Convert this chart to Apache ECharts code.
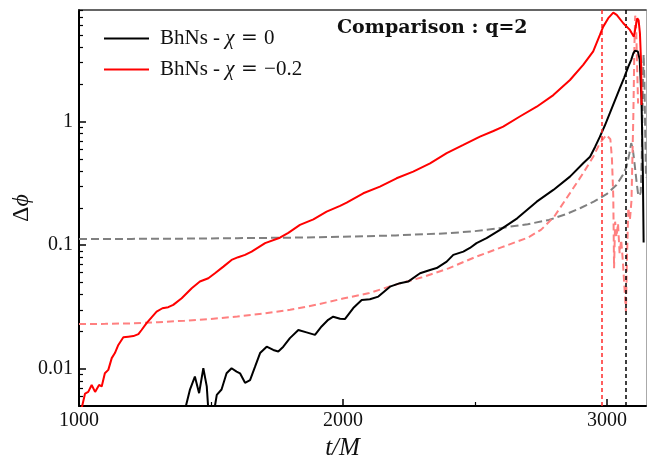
<!DOCTYPE html>
<html>
<head>
<meta charset="utf-8">
<script src="https://cdn.jsdelivr.net/npm/echarts@6/dist/echarts.min.js"></script>
<style>html,body{margin:0;padding:0;background:#fff}#c{width:647px;height:458px}</style>
</head>
<body>
<div id="c"></div>
<script>
// ---- data ----
const tRed = [1005,1012,1023,1035,1048,1061,1076,1086,1098,1111,1124,1136,1149,1168,1187,1206,1225,1237,1256,1275,1294,1316,1338,1357,1389,1427,1458,1490,1515,1547,1578,1603,1629,1654,1705,1761,1793,1837,1888,1938,1989,2014,2077,2140,2203,2266,2330,2393,2456,2519,2570,2607,2670,2734,2797,2860,2910,2948,2973,2986,3005,3024,3037,3062,3087,3102,3109,3115,3120,3125,3130,3131];
const redVals = [0.0045,0.005,0.0063,0.0065,0.0074,0.0065,0.0074,0.0072,0.0092,0.0098,0.0122,0.0134,0.0156,0.018,0.0182,0.0184,0.0191,0.0206,0.0234,0.0261,0.029,0.0309,0.0315,0.0329,0.0372,0.0449,0.0508,0.054,0.0593,0.0671,0.076,0.080,0.0835,0.0888,0.104,0.115,0.126,0.146,0.162,0.187,0.208,0.221,0.263,0.298,0.348,0.394,0.46,0.555,0.648,0.757,0.84,0.91,1.10,1.32,1.64,2.17,2.88,3.70,5.0,5.87,6.87,7.62,7.3,6.25,5.52,4.87,5.87,6.87,6.6,5.2,2.79,1.36];

const tBlack = [1398,1405,1420,1439,1455,1471,1484,1492,1500,1509,1515,1522,1540,1559,1578,1597,1610,1629,1648,1667,1686,1711,1736,1755,1774,1799,1831,1862,1894,1919,1944,1963,1989,2008,2039,2071,2102,2134,2178,2216,2247,2292,2330,2355,2393,2418,2456,2481,2506,2544,2595,2660,2734,2797,2860,2910,2936,2955,2973,2992,3011,3030,3049,3065,3081,3092,3100,3106,3112,3117,3124,3131,3136,3139];
const blackVals = [0.004,0.005,0.00675,0.00865,0.00635,0.0101,0.0072,0.004,0.003,0.004,0.005,0.00615,0.0068,0.0092,0.0101,0.0095,0.0092,0.0077,0.0081,0.0104,0.0134,0.0151,0.0142,0.0138,0.0151,0.0177,0.0206,0.0197,0.0188,0.022,0.0249,0.0264,0.0254,0.0253,0.031,0.036,0.0365,0.0384,0.0462,0.0493,0.0508,0.0593,0.063,0.0653,0.0736,0.0835,0.0888,0.095,0.104,0.114,0.133,0.165,0.225,0.28,0.359,0.46,0.52,0.624,0.752,0.93,1.17,1.48,1.87,2.26,2.79,3.16,3.57,3.75,3.85,3.7,3.2,1.5,0.4,0.105];

const tGrayDash = [1000,1200,1400,1600,1800,2000,2200,2400,2500,2600,2700,2780,2850,2900,2950,3000,3036,3060,3074,3085,3092,3098,3105,3112,3118,3124,3128,3132,3136,3139,3142,3145,3148];
const grayDashVals = [0.112,0.1125,0.113,0.114,0.115,0.117,0.12,0.125,0.13,0.138,0.148,0.16,0.18,0.2,0.225,0.26,0.307,0.37,0.43,0.55,0.67,0.6,0.45,0.33,0.26,0.25,0.27,0.5,2.0,3.5,2.2,0.8,0.35];

const tRedDash = [1000,1100,1200,1300,1400,1500,1600,1700,1800,1900,2000,2100,2200,2300,2400,2500,2600,2700,2750,2800,2860,2910,2948,2973,2998,3005,3013,3019,3024,3027,3031,3036,3042,3048,3054,3060,3068,3072,3076,3081,3087,3093,3100,3104,3107,3110,3114,3118];
const redDashVals = [0.023,0.0231,0.0233,0.0238,0.0245,0.0253,0.0265,0.028,0.030,0.033,0.037,0.041,0.048,0.055,0.065,0.080,0.096,0.115,0.133,0.17,0.264,0.383,0.52,0.668,0.78,0.8,0.72,0.5,0.25,0.065,0.155,0.117,0.15,0.086,0.11,0.076,0.04,0.029,0.08,0.2,0.16,0.23,1.1,4.0,7.2,6.5,3.0,1.4];

const vlineRedX = 2980;
const vlineBlackX = 3072;

const xMajorTicks = [1000, 2000, 3000];
const xMinorTicks = [1500, 2500];
const yMajorTicks = [0.01, 0.1, 1];
const yMinorTicks = [0.006,0.007,0.008,0.009,0.02,0.03,0.04,0.05,0.06,0.07,0.08,0.09,0.2,0.3,0.4,0.5,0.6,0.7,0.8,0.9,2,3,4,5,6,7,8];

const legendLabels = {chi0: '{a|BhNs - }{b|χ}{e| = }{a|0}', chim: '{a|BhNs - }{b|χ}{e| = }{a|−0.2}'};

// ---- chart ----
const zip = (xs, ys) => xs.map((x, i) => [x, ys[i]]);
const SERIF = 'Liberation Serif';
const X_MIN = 1000, X_MAX = 3148, Y_MIN = 0.005, Y_MAX = 8;

const chart = echarts.init(document.getElementById('c'), null, {renderer: 'canvas'});
const noLine = {show: false};
chart.setOption({
  animation: false,
  backgroundColor: '#fff',
  title: {
    text: 'Comparison : q=2', left: 337, top: 19, padding: 0,
    textStyle: {fontFamily: 'DejaVu Serif', fontWeight: 'bold', fontSize: 19, color: '#111'}
  },
  legend: {
    orient: 'vertical', left: 99, top: 23, itemWidth: 45, itemHeight: 2, itemGap: 10,
    icon: 'rect', data: ['chi0', 'chim'],
    formatter: n => legendLabels[n],
    textStyle: {
      padding: [0, 0, 0, 6],
      rich: {
        a: {fontFamily: SERIF, fontSize: 21, color: '#111', lineHeight: 22},
        b: {fontFamily: SERIF, fontSize: 21, fontStyle: 'italic', color: '#111', lineHeight: 22},
        e: {fontFamily: 'DejaVu Serif', fontSize: 20, color: '#111', lineHeight: 22}
      }
    }
  },
  grid: {left: 79, right: 1, top: 10, bottom: 52, containLabel: false, outerBoundsMode: 'none'},
  xAxis: [
    {type: 'value', min: X_MIN, max: X_MAX, position: 'bottom',
     name: 't/M', nameLocation: 'middle', nameGap: 21,
     nameTextStyle: {fontFamily: SERIF, fontStyle: 'italic', fontSize: 25, color: '#111', padding: [0, 40, 0, 0]},
     axisLine: {onZero: false, lineStyle: {color: '#000', width: 2}},
     axisTick: {inside: true, length: 7, lineStyle: {color: '#000', width: 1.5}, customValues: xMajorTicks},
     axisLabel: {customValues: xMajorTicks, fontFamily: SERIF, fontSize: 20, color: '#111', margin: 5,
                 formatter: v => String(v)},
     splitLine: noLine},
    {type: 'value', min: X_MIN, max: X_MAX, position: 'bottom',
     axisLine: {show: false, onZero: false},
     axisTick: {inside: true, length: 4, lineStyle: {color: '#000', width: 1.2}, customValues: xMinorTicks},
     axisLabel: {show: false}, splitLine: noLine},
    {type: 'value', min: X_MIN, max: X_MAX, position: 'top',
     axisLine: {onZero: false, lineStyle: {color: '#333', width: 1.5}},
     axisTick: {show: false}, axisLabel: {show: false}, splitLine: noLine}
  ],
  yAxis: [
    {type: 'log', logBase: 10, min: Y_MIN, max: Y_MAX, position: 'left',
     name: '{a|Δ}{b|ϕ}', nameLocation: 'middle', nameGap: 45, nameRotate: 90, nameMoveOverlap: false,
     nameTextStyle: {rich: {a: {fontFamily: SERIF, fontSize: 24, color: '#111'}, b: {fontFamily: SERIF, fontSize: 24, fontStyle: 'italic', color: '#111'}}},
     axisLine: {onZero: false, lineStyle: {color: '#000', width: 2}},
     axisTick: {inside: true, length: 7, lineStyle: {color: '#000', width: 1.5}, customValues: yMajorTicks},
     axisLabel: {customValues: yMajorTicks, fontFamily: SERIF, fontSize: 20, color: '#111', margin: 6,
                 formatter: v => String(+(+v).toPrecision(3))},
     splitLine: noLine},
    {type: 'log', logBase: 10, min: Y_MIN, max: Y_MAX, position: 'left',
     axisLine: {show: false, onZero: false},
     axisTick: {inside: true, length: 4, lineStyle: {color: '#000', width: 1.2}, customValues: yMinorTicks},
     axisLabel: {show: false}, splitLine: noLine},
    {type: 'log', logBase: 10, min: Y_MIN, max: Y_MAX, position: 'right',
     axisLine: {onZero: false, lineStyle: {color: '#aaa', width: 1}},
     axisTick: {show: false}, axisLabel: {show: false}, splitLine: noLine}
  ],
  series: [
    {name: 'grayDash', type: 'line', data: zip(tGrayDash, grayDashVals), showSymbol: false, symbol: 'none',
     lineStyle: {color: '#808080', width: 2, type: [8, 4]}, z: 2},
    {name: 'redDash', type: 'line', data: zip(tRedDash, redDashVals), showSymbol: false, symbol: 'none',
     lineStyle: {color: '#ff8080', width: 2, type: [7, 4]}, z: 3},
    {name: 'chi0', type: 'line', data: zip(tBlack, blackVals), showSymbol: false, symbol: 'none',
     itemStyle: {color: '#000'}, lineStyle: {color: '#000', width: 2}, z: 4,
     markLine: {silent: true, symbol: ['none', 'none'], label: {show: false},
       lineStyle: {color: '#000', width: 1.5, type: [4, 3]}, data: [{xAxis: vlineBlackX}]}},
    {name: 'chim', type: 'line', data: zip(tRed, redVals), showSymbol: false, symbol: 'none',
     itemStyle: {color: '#ff0000'}, lineStyle: {color: '#ff0000', width: 2}, z: 5,
     markLine: {silent: true, symbol: ['none', 'none'], label: {show: false},
       lineStyle: {color: '#ff2a2a', width: 1.5, type: [4, 3]}, data: [{xAxis: vlineRedX}]}}
  ]
});
</script>
</body>
</html>
